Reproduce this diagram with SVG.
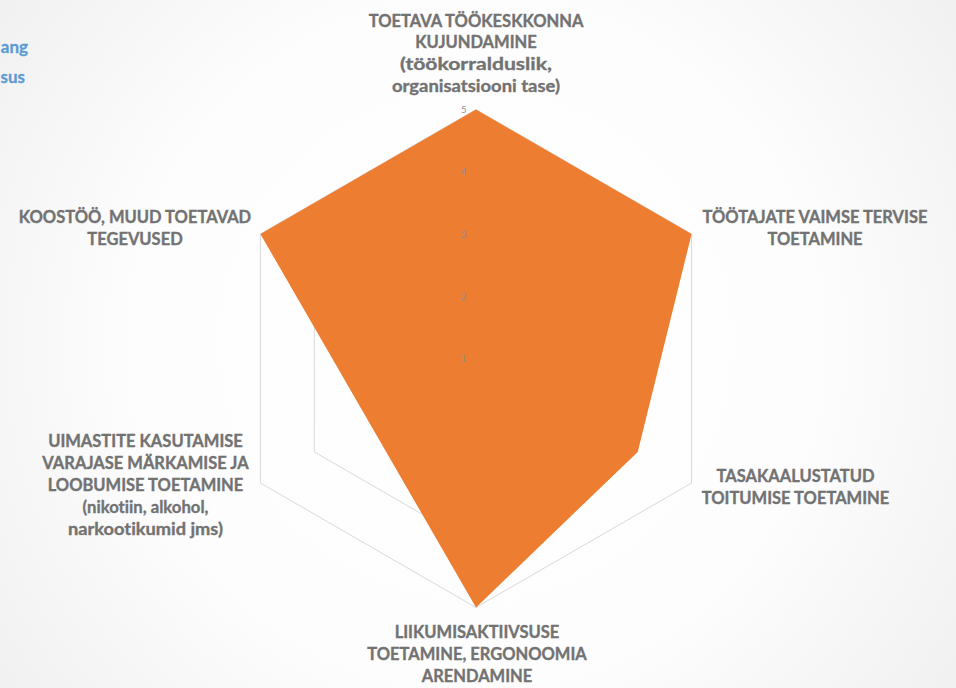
<svg xmlns="http://www.w3.org/2000/svg" width="956" height="688" viewBox="0 0 956 688">
<defs>
<radialGradient id="bg" cx="476" cy="344" r="620" gradientUnits="userSpaceOnUse">
<stop offset="0" stop-color="#ffffff"/>
<stop offset="0.55" stop-color="#fdfdfd"/>
<stop offset="1" stop-color="#efefef"/>
</radialGradient>
<style>
.cat{font-family:Lato,"Open Sans","Liberation Sans",sans-serif;font-weight:bold;font-size:16.5px;fill:#727272;stroke:#727272;stroke-width:0.35px;text-anchor:middle;font-variant-ligatures:none}
.lc{font-size:17.5px}
.tick{font-family:Lato,"Liberation Sans",sans-serif;font-size:9.5px;fill:#8f8f8f;text-anchor:end}
.leg{font-family:Lato,"Liberation Sans",sans-serif;font-weight:bold;font-size:17px;fill:#5b9bd5;stroke:#5b9bd5;stroke-width:0.3px;text-anchor:end}
.grid{fill:none;stroke:#d9d9d9;stroke-width:1}
</style>
</defs>
<rect width="956" height="688" fill="url(#bg)"/>
<g id="legend">
<text class="leg" x="28" y="53">ang</text>
<text class="leg" x="25" y="83">sus</text>
</g>
<g id="gridlines">
<polygon class="grid" points="476,109.5 691.6,234 691.6,483 476,607.5 260.4,483 260.4,234"/>
<polygon class="grid" points="476,171.75 637.7,265.1 637.7,451.9 476,545.25 314.3,451.9 314.3,265.1"/>
<polygon class="grid" points="476,234 583.8,296.25 583.8,420.75 476,483 368.2,420.75 368.2,296.25"/>
<polygon class="grid" points="476,296.25 529.9,327.4 529.9,389.6 476,420.75 422.1,389.6 422.1,327.4"/>
</g>
<g id="series">
<polygon points="476,109.5 691.6,234 637.7,451.9 476,607.5 368.2,420.75 260.4,234" fill="#ed7d31"/>
</g>
<g id="ticks">
<text class="tick" x="466.5" y="113">5</text>
<text class="tick" x="466.5" y="175">4</text>
<text class="tick" x="466.5" y="237.5">3</text>
<text class="tick" x="466.5" y="299.5">2</text>
<text class="tick" x="466.5" y="362">1</text>
</g>
<g id="label-top">
<text class="cat" x="476" y="26.5">TOETAVA TÖÖKESKKONNA</text>
<text class="cat" x="476" y="48">KUJUNDAMINE</text>
<text class="cat lc" x="476" y="70" textLength="152" lengthAdjust="spacingAndGlyphs">(töökorralduslik,</text>
<text class="cat lc" x="476" y="92" textLength="168" lengthAdjust="spacingAndGlyphs">organisatsiooni tase)</text>
</g>
<g id="label-upper-right">
<text class="cat" x="815" y="223">TÖÖTAJATE VAIMSE TERVISE</text>
<text class="cat" x="815" y="245">TOETAMINE</text>
</g>
<g id="label-lower-right">
<text class="cat" x="795.5" y="481.5">TASAKAALUSTATUD</text>
<text class="cat" x="795.5" y="503.5">TOITUMISE TOETAMINE</text>
</g>
<g id="label-bottom">
<text class="cat" x="477" y="638">LIIKUMISAKTIIVSUSE</text>
<text class="cat" x="477" y="660">TOETAMINE, ERGONOOMIA</text>
<text class="cat" x="477" y="682">ARENDAMINE</text>
</g>
<g id="label-lower-left">
<text class="cat" x="145.5" y="447">UIMASTITE KASUTAMISE</text>
<text class="cat" x="145.5" y="469">VARAJASE MÄRKAMISE JA</text>
<text class="cat" x="145.5" y="491">LOOBUMISE TOETAMINE</text>
<text class="cat lc" x="145.5" y="513" textLength="126" lengthAdjust="spacingAndGlyphs">(nikotiin, alkohol,</text>
<text class="cat lc" x="145.5" y="535" textLength="155" lengthAdjust="spacingAndGlyphs">narkootikumid jms)</text>
</g>
<g id="label-upper-left">
<text class="cat" x="135" y="223">KOOSTÖÖ, MUUD TOETAVAD</text>
<text class="cat" x="135" y="245">TEGEVUSED</text>
</g>
</svg>
